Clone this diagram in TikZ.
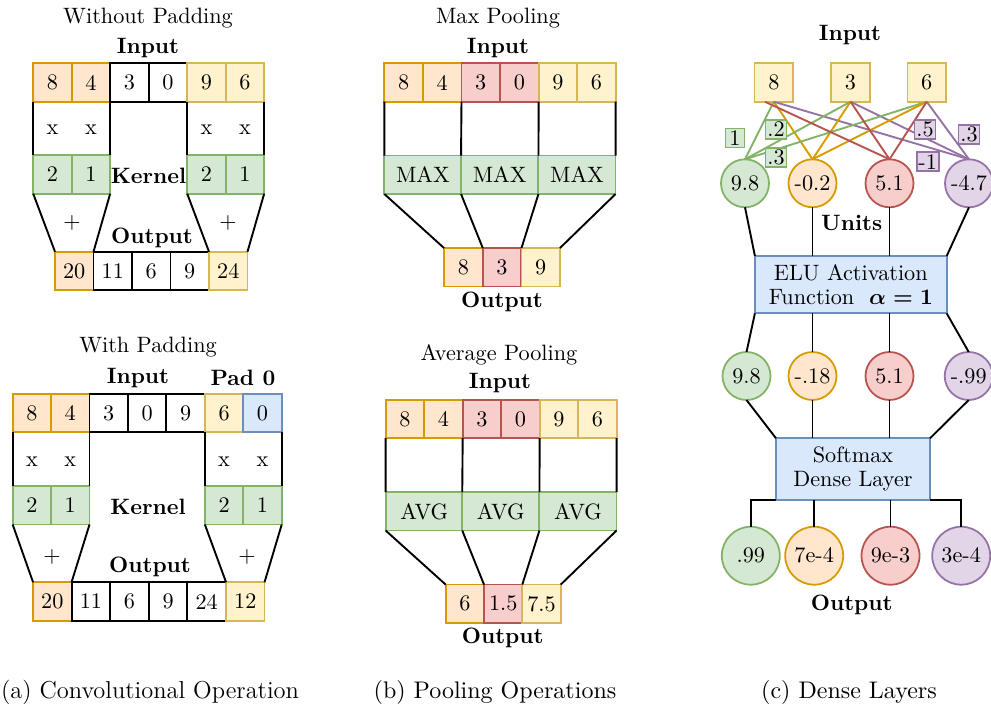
\documentclass[tikz,border=0pt]{standalone}
\usetikzlibrary{calc}
\definecolor{orgF}{HTML}{FFE6CC}\definecolor{orgD}{HTML}{D79B00}
\definecolor{yelF}{HTML}{FFF2CC}\definecolor{yelD}{HTML}{D6B656}
\definecolor{grnF}{HTML}{D5E8D4}\definecolor{grnD}{HTML}{82B366}
\definecolor{redF}{HTML}{F8CECC}\definecolor{redD}{HTML}{B85450}
\definecolor{bluF}{HTML}{DAE8FC}\definecolor{bluD}{HTML}{6C8EBF}
\definecolor{purF}{HTML}{E1D5E7}\definecolor{purD}{HTML}{9673A6}
\begin{document}
\begin{tikzpicture}[x=0.45pt,y=-0.45pt,
  cell/.style={draw, line width=0.8pt, minimum width=17.3pt, minimum height=17.3pt, inner sep=0pt, outer sep=0pt},
  wcell/.style={cell, minimum width=34.7pt},
  org/.style={fill=orgF, draw=orgD}, yel/.style={fill=yelF, draw=yelD},
  grn/.style={fill=grnF, draw=grnD}, red/.style={fill=redF, draw=redD},
  blu/.style={fill=bluF, draw=bluD}, pur/.style={fill=purF, draw=purD},
  wht/.style={fill=white, draw=black},
  ln/.style={line width=0.85pt},
  lbl/.style={inner sep=0pt, font=\bfseries},
  txt/.style={inner sep=0pt},
  unit/.style={circle, draw, line width=0.8pt, minimum size=21.6pt, inner sep=0pt, outer sep=0pt},
  ounit/.style={unit, minimum size=26.1pt},
  wt/.style={draw, line width=0.8pt, inner sep=0.8pt, minimum width=8.6pt, minimum height=8.6pt, outer sep=0pt},
  bigbox/.style={draw=bluD, fill=bluF, line width=0.8pt, inner sep=0pt, outer sep=0pt, align=center}
]
\useasboundingbox (0,0) rectangle (991,704);

% ---------------- (a) top: Without Padding
\node[txt] (tA) at (148,18) {Without Padding};
\node[lbl] (iA) at (148,48) {Input};
\node[cell,org] (a1) at (52.45,82.5) {8};
\node[cell,org] (a2) at (90.95,82.5) {4};
\node[cell,wht] (a3) at (129.45,82.5) {3};
\node[cell,wht] (a4) at (167.95,82.5) {0};
\node[cell,yel] (a5) at (206.45,82.5) {9};
\node[cell,yel] (a6) at (244.95,82.5) {6};
\node[cell,grn] (ka1) at (52.45,174.5) {2};
\node[cell,grn] (ka2) at (90.95,174.5) {1};
\node[cell,grn] (ka3) at (206.45,174.5) {2};
\node[cell,grn] (ka4) at (244.95,174.5) {1};
\node[txt] (xa1) at (52.45,130) {x};
\node[txt] (xa2) at (90.95,130) {x};
\node[txt] (xa3) at (206.45,130) {x};
\node[txt] (xa4) at (244.95,130) {x};
\node[lbl] (kA) at (148.5,176) {Kernel};
\node[txt] (pa1) at (72,223) {+};
\node[txt] (pa2) at (228,223) {+};
\node[lbl] (oA) at (152,238) {Output};
\node[cell,org] (o1) at (74.25,271) {20};
\node[cell,wht] (o2) at (112.75,271) {11};
\node[cell,wht] (o3) at (151.25,271) {6};
\node[cell,wht] (o4) at (189.75,271) {9};
\node[cell,yel] (o5) at (228.25,271) {24};
\draw[ln] (a1.south west) -- (ka1.north west);
\draw[ln] (a2.south east) -- (ka2.north east);
\draw[ln] (a5.south west) -- (ka3.north west);
\draw[ln] (a6.south east) -- (ka4.north east);
\draw[ln] (ka1.south west) -- (o1.north west);
\draw[ln] (ka2.south east) -- (o1.north east);
\draw[ln] (ka3.south west) -- (o5.north west);
\draw[ln] (ka4.south east) -- (o5.north east);

% ---------------- (a) bottom: With Padding
\node[txt] (tB) at (148,347) {With Padding};
\node[lbl] (iB) at (138,378) {Input};
\node[lbl] (pB) at (243,378) {Pad 0};
\node[cell,org] (b1) at (31.9,413) {8};
\node[cell,org] (b2) at (70.3,413) {4};
\node[cell,wht] (b3) at (108.8,413) {3};
\node[cell,wht] (b4) at (147.2,413) {0};
\node[cell,wht] (b5) at (185.6,413) {9};
\node[cell,yel] (b6) at (224.1,413) {6};
\node[cell,blu] (b7) at (262.5,413) {0};
\node[txt] (xb1) at (31.9,462) {x};
\node[txt] (xb2) at (70.3,462) {x};
\node[txt] (xb3) at (224.1,462) {x};
\node[txt] (xb4) at (262.5,462) {x};
\node[cell,grn] (kb1) at (31.9,505.3) {2};
\node[cell,grn] (kb2) at (70.3,505.3) {1};
\node[cell,grn] (kb3) at (224.1,505.3) {2};
\node[cell,grn] (kb4) at (262.5,505.3) {1};
\node[lbl] (kB) at (148,507) {Kernel};
\node[txt] (pb1) at (52,557) {+};
\node[txt] (pb2) at (247,557) {+};
\node[lbl] (oB) at (150,567) {Output};
\node[cell,org] (ob1) at (52.3,601.5) {20};
\node[cell,wht] (ob2) at (90.9,601.5) {11};
\node[cell,wht] (ob3) at (129.5,601.5) {6};
\node[cell,wht] (ob4) at (168.1,601.5) {9};
\node[cell,wht] (ob5) at (206.7,601.5) {24};
\node[cell,yel] (ob6) at (245.3,601.5) {12};
\draw[ln] (b1.south west) -- (kb1.north west);
\draw[ln] (b2.south east) -- (kb2.north east);
\draw[ln] (b6.south west) -- (kb3.north west);
\draw[ln] (b7.south east) -- (kb4.north east);
\draw[ln] (kb1.south west) -- (ob1.north west);
\draw[ln] (kb2.south east) -- (ob1.north east);
\draw[ln] (kb3.south west) -- (ob6.north west);
\draw[ln] (kb4.south east) -- (ob6.north east);

\node[txt] (capA) at (150,692) {\fontsize{11}{13}\selectfont (a) Convolutional Operation};

% ---------------- (b) Max Pooling
\node[txt] (tM) at (498,18) {Max Pooling};
\node[lbl] (iM) at (498,48) {Input};
\node[cell,org] (m1) at (403.6,82.5) {8};
\node[cell,org] (m2) at (442.2,82.5) {4};
\node[cell,red] (m3) at (480.7,82.5) {3};
\node[cell,red] (m4) at (519.3,82.5) {0};
\node[cell,yel] (m5) at (557.9,82.5) {9};
\node[cell,yel] (m6) at (596.4,82.5) {6};
\node[wcell,grn] (x1) at (422.9,174.8) {MAX};
\node[wcell,grn] (x2) at (499.6,174.8) {MAX};
\node[wcell,grn] (x3) at (577,174.8) {MAX};
\node[cell,org] (mo1) at (463.3,267.3) {8};
\node[cell,red] (mo2) at (502,267.3) {3};
\node[cell,yel] (mo3) at (540.7,267.3) {9};
\node[lbl] (oM) at (502,302) {Output};
\draw[ln] (m1.south west) -- (x1.north west);
\draw[ln] (m3.south west) -- (x2.north west);
\draw[ln] (m5.south west) -- (x3.north west);
\draw[ln] (m6.south east) -- (x3.north east);
\draw[ln] (x1.south west) -- (mo1.north west);
\draw[ln] (x2.south west) -- (mo2.north west);
\draw[ln] (x3.south west) -- (mo3.north west);
\draw[ln] (x3.south east) -- (mo3.north east);

% ---------------- (b) Average Pooling
\node[txt] (tV) at (499,355) {Average Pooling};
\node[lbl] (iV) at (500,383) {Input};
\node[cell,org] (v1) at (404.9,419) {8};
\node[cell,org] (v2) at (443.4,419) {4};
\node[cell,red] (v3) at (481.9,419) {3};
\node[cell,red] (v4) at (520.4,419) {0};
\node[cell,yel] (v5) at (558.9,419) {9};
\node[cell,yel] (v6) at (597.4,419) {6};
\node[wcell,grn] (g1) at (424.2,511.3) {AVG};
\node[wcell,grn] (g2) at (500.8,511.3) {AVG};
\node[wcell,grn] (g3) at (578,511.3) {AVG};
\node[cell,org] (vo1) at (464.9,603.8) {6};
\node[cell,red] (vo2) at (503.2,603.8) {1.5};
\node[cell,yel] (vo3) at (541.5,603.8) {7.5};
\node[lbl] (oV) at (502.7,637.7) {Output};
\draw[ln] (v1.south west) -- (g1.north west);
\draw[ln] (v3.south west) -- (g2.north west);
\draw[ln] (v5.south west) -- (g3.north west);
\draw[ln] (v6.south east) -- (g3.north east);
\draw[ln] (g1.south west) -- (vo1.north west);
\draw[ln] (g2.south west) -- (vo2.north west);
\draw[ln] (g3.south west) -- (vo3.north west);
\draw[ln] (g3.south east) -- (vo3.north east);

\node[txt] (capB) at (495,692) {\fontsize{10.8}{13}\selectfont (b) Pooling Operations};

% ---------------- (c) Dense Layers
\node[lbl] (iC) at (850,35) {Input};
\node[cell,yel] (n1) at (773.8,82.5) {8};
\node[cell,yel] (n2) at (850.5,82.5) {3};
\node[cell,yel] (n3) at (926.7,82.5) {6};
\node[unit,grn] (u1) at (745,183.3) {9.8};
\node[unit,org] (u2) at (812.5,183.3) {-0.2};
\node[unit,red] (u3) at (889.5,183.3) {5.1};
\node[unit,pur] (u4) at (969,183.3) {-4.7};
\foreach \i in {n1,n2,n3}{
  \draw[ln, draw=grnD] (\i.south) -- (u1.north);
  \draw[ln, draw=orgD] (\i.south) -- (u2.north);
  \draw[ln, draw=purD] (\i.south) -- (u4.north);
}
\draw[ln, draw=redD] ([xshift=-4pt]n1.south) -- (u3.north);
\draw[ln, draw=redD] (n2.south) -- (u3.north);
\draw[ln, draw=redD] (n3.south) -- (u3.north);
\node[wt,grn] (w1) at (735,138) {1};
\node[wt,grn] (w2) at (776,129.5) {.2};
\node[wt,grn] (w3) at (776,157.3) {.3};
\node[wt,pur] (w4) at (925,129.5) {.5};
\node[wt,pur] (w5) at (969,134.3) {.3};
\node[wt,pur] (w6) at (927.7,161.7) {-1};

\node[lbl] (uC) at (851.7,222.7) {Units};
\node[bigbox, minimum width=86.3pt, minimum height=25.8pt] (elu) at (850.8,284.7)
  {ELU Activation\\[-1pt] Function~~{\boldmath$\alpha = 1$}};
\draw[ln] (u1.south) -- (elu.north west);
\draw[ln] (u2.south) -- (u2.south |- elu.north);
\draw[ln] (u3.south) -- (u3.south |- elu.north);
\draw[ln] (u4.south) -- (elu.north east);

\node[unit,grn] (r1) at (746.5,376) {9.8};
\node[unit,org] (r2) at (812.5,376) {-.18};
\node[unit,red] (r3) at (889.5,376) {5.1};
\node[unit,pur] (r4) at (968.7,376) {-.99};
\draw[ln] (elu.south west) -- (r1.north);
\draw[ln] (r2.north |- elu.south) -- (r2.north);
\draw[ln] (r3.north |- elu.south) -- (r3.north);
\draw[ln] (elu.south east) -- (r4.north);

\node[bigbox, minimum width=69.3pt, minimum height=27.8pt] (sm) at (853,469.2)
  {Softmax\\[-1pt] Dense Layer};
\draw[ln] (r1.south) -- (sm.north west);
\draw[ln] (r2.south) -- (r2.south |- sm.north);
\draw[ln] (r3.south) -- (r3.south |- sm.north);
\draw[ln] (r4.south) -- (sm.north east);

\node[ounit,grn] (q1) at (750.8,555.7) {.99};
\node[ounit,org] (q2) at (814.2,555.7) {7e-4};
\node[ounit,red] (q3) at (890.5,555.7) {9e-3};
\node[ounit,pur] (q4) at (961.2,555.7) {3e-4};
\draw[ln] (sm.south west) -| (q1.north);
\draw[ln] (q2.north |- sm.south) -- (q2.north);
\draw[ln] (q3.north |- sm.south) -- (q3.north);
\draw[ln] (sm.south east) -| (q4.north);
\node[lbl] (oC) at (851.7,605) {Output};

\node[txt] (capC) at (849,692) {\fontsize{10.8}{13}\selectfont (c) Dense Layers};
\end{tikzpicture}
\end{document}
